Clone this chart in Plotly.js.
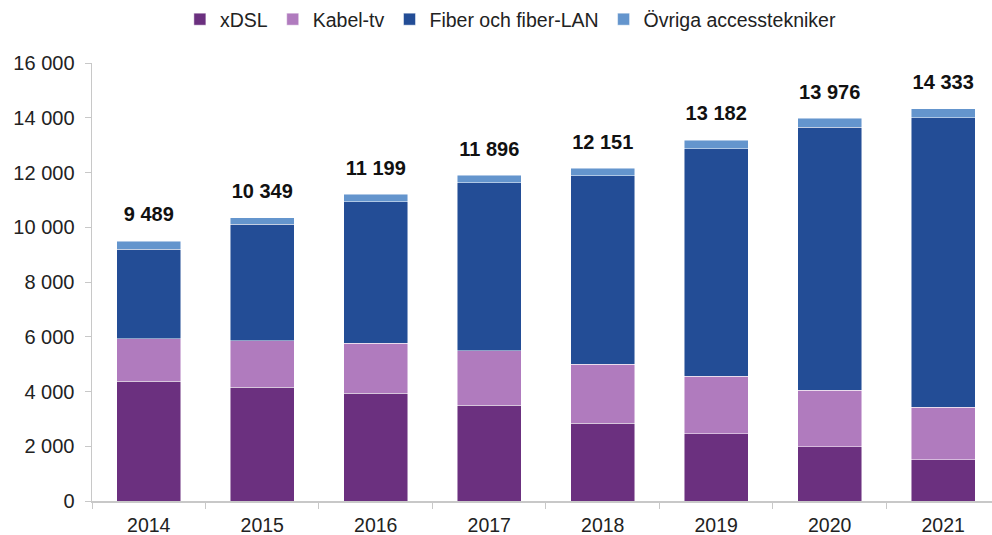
<!DOCTYPE html>
<html>
<head>
<meta charset="utf-8">
<script src="https://cdn.plot.ly/plotly-3.0.1.min.js"></script>
<style>html,body{margin:0;padding:0;background:#fff;}#chart{width:992px;height:535px;}</style>
</head>
<body>
<div id="chart"></div>
<script>
const years = ["2014","2015","2016","2017","2018","2019","2020","2021"];
const xdsl = [4378, 4159, 3939, 3500, 2842, 2451, 1976, 1500];
const kabel = [1548, 1693, 1829, 1987, 2147, 2099, 2062, 1927];
const fiber = [3269, 4258, 5168, 6133, 6888, 8314, 9619, 10582];
const ovriga = [294, 239, 263, 276, 274, 318, 319, 324];
const totals = [9489, 10349, 11199, 11896, 12151, 13182, 13976, 14333];
const seriesNames = ["xDSL", "Kabel-tv", "Fiber och fiber-LAN", "Övriga accesstekniker"];
const colors = ["#6B307F", "#B07BBE", "#234D96", "#6495CD"];

const FONT = "Liberation Sans, Arial, sans-serif";
function fmt(n){ return String(n).replace(/\B(?=(\d{3})+(?!\d))/g, " "); }

const data = [xdsl, kabel, fiber, ovriga].map((vals, i) => ({
  type: "bar",
  name: seriesNames[i],
  x: years,
  y: vals,
  width: 0.566,
  marker: {color: colors[i], line: {color: "rgba(255,255,255,0.6)", width: 0.8}},
  hoverinfo: "skip"
}));

data.push({
  type: "scatter",
  mode: "markers+text",
  x: years,
  y: totals,
  text: totals.map(v => "<b>" + fmt(v) + "</b>"),
  textposition: "top center",
  textfont: {family: FONT, size: 20, color: "#111"},
  marker: {size: 22, opacity: 0, color: "#fff"},
  cliponaxis: false,
  showlegend: false,
  hoverinfo: "skip"
});

const layout = {
  width: 992, height: 535,
  margin: {l: 92, r: 0, t: 63, b: 34},
  paper_bgcolor: "#fff", plot_bgcolor: "#fff",
  barmode: "stack",
  separators: ", ",
  showlegend: true,
  legend: {
    orientation: "h", xref: "container", yref: "container",
    x: 0.515, xanchor: "center", y: 1, yanchor: "top",
    font: {family: FONT, size: 19.5, color: "#222"},
    traceorder: "normal", itemwidth: 30
  },
  xaxis: {
    type: "category",
    range: [-0.5, 7.43],
    showline: true, linecolor: "#c8c8c8", linewidth: 1.5,
    ticks: "outside", tickson: "boundaries", ticklen: 6, tickcolor: "#c8c8c8",
    ticklabelstandoff: 6,
    tickfont: {family: FONT, size: 19.5, color: "#222"},
    showgrid: false, zeroline: false, fixedrange: true
  },
  yaxis: {
    range: [0, 16000], dtick: 2000, tickformat: ",d",
    showline: true, linecolor: "#c8c8c8", linewidth: 1.5,
    ticks: "outside", ticklen: 6, tickcolor: "#c8c8c8",
    ticklabelstandoff: 6,
    tickfont: {family: FONT, size: 20, color: "#222"},
    showgrid: false, zeroline: false, fixedrange: true
  }
};

Plotly.newPlot("chart", data, layout, {displayModeBar: false, staticPlot: true});
</script>
</body>
</html>
